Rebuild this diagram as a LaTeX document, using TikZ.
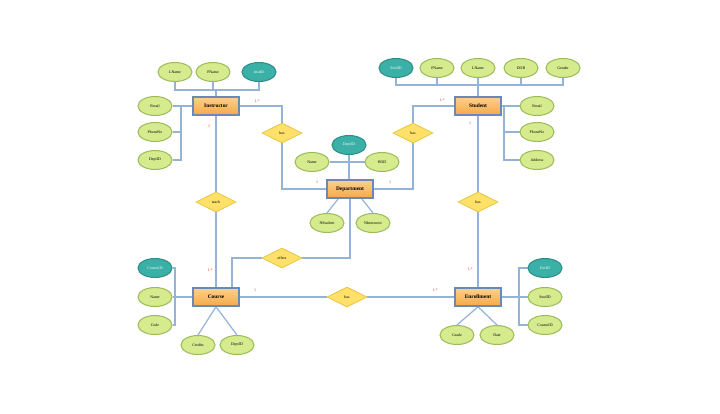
\documentclass[tikz,border=0pt]{standalone}
\usepackage{fontspec}
\setmainfont{Liberation Serif}
\usetikzlibrary{shapes.geometric,backgrounds}
\definecolor{linec}{HTML}{95B3D7}
\definecolor{entb}{HTML}{6A8AB5}
\definecolor{entt}{HTML}{FCD08F}
\definecolor{entbt}{HTML}{F5A947}
\definecolor{attf}{HTML}{D6EA8E}
\definecolor{attb}{HTML}{9BBB59}
\definecolor{keyf}{HTML}{3BB0A6}
\definecolor{keyb}{HTML}{2C8C88}
\definecolor{relf}{HTML}{FFE16A}
\definecolor{relb}{HTML}{E3C43A}
\definecolor{cardc}{HTML}{D03030}
\begin{document}
\begin{tikzpicture}[x=1pt,y=-1pt,
 ent/.style={rectangle, draw=entb, line width=1.5pt, top color=entt, bottom color=entbt, minimum width=46pt, minimum height=18pt, inner sep=0pt, font=\fontsize{5.4}{6}\selectfont\bfseries},
 att/.style={ellipse, draw=attb, line width=1pt, fill=attf, minimum width=34pt, minimum height=19pt, inner sep=0pt, font=\fontsize{3.9}{4.5}\selectfont},
 keyatt/.style={att, draw=keyb, fill=keyf, text=white},
 rel/.style={diamond, draw=relb, line width=0.7pt, fill=relf, minimum width=40pt, minimum height=20pt, inner sep=0pt, font=\fontsize{3.9}{4.5}\selectfont},
 conn/.style={draw=linec, line width=1.2pt},
 card/.style={text=cardc, font=\fontsize{4}{4.5}\selectfont, inner sep=0pt}]
\begin{scope}[on background layer]
\fill[white] (0,0) rectangle (720,413);
\end{scope}
\useasboundingbox (0,0) rectangle (720,413);

% Instructor
\node[ent] (instr) at (216,106) {Instructor};
\node[att] (ilname) at (175,72) {LName};
\node[att] (ifname) at (213,72) {FName};
\node[keyatt] (iid) at (259,72) {InstID};
\node[att] (iemail) at (155,106) {Email};
\node[att] (iphone) at (155,132) {PhoneNo};
\node[att] (idept) at (155,160) {DeptID};
\coordinate (ibar) at (216,90);
\coordinate (ibx) at (181,0);

% Student
\node[ent] (stud) at (478,106) {Student};
\node[keyatt] (sid) at (396,68) {StudID};
\node[att] (sfname) at (437,68) {FName};
\node[att] (slname) at (478,68) {LName};
\node[att] (sdob) at (521,68) {DOB};
\node[att] (sgender) at (563,68) {Gender};
\node[att] (semail) at (537,106) {Email};
\node[att] (sphone) at (537,132) {PhoneNo};
\node[att] (saddr) at (537,160) {Address};
\coordinate (sbar) at (478,85);
\coordinate (sbx) at (504,0);

% Department
\node[ent] (dept) at (350,189) {Department};
\node[keyatt] (did) at (349,145) {DeptID};
\node[att] (dname) at (312,162) {Name};
\node[att] (dhod) at (382,162) {HOD};
\node[att] (dnst) at (327,223) {NStudent};
\node[att] (dnin) at (373,223) {NInstructor};

% Course
\node[ent] (course) at (216,297) {Course};
\node[keyatt] (cid) at (155,268) {CourseID};
\node[att] (cname) at (155,297) {Name};
\node[att] (ccode) at (155,325) {Code};
\node[att] (ccred) at (198,345) {Credits};
\node[att] (cdept) at (237,345) {DeptID};
\coordinate (cbx) at (175,0);

% Enrollment
\node[ent] (enr) at (478,297) {Enrollment};
\node[keyatt] (eid) at (545,268) {EnrID};
\node[att] (estud) at (545,297) {StudID};
\node[att] (ecid) at (545,325) {CourseID};
\node[att] (egrade) at (457,335) {Grade};
\node[att] (edate) at (497,335) {Date};
\coordinate (ebx) at (519,0);

% Relationships
\node[rel] (has1) at (282,133) {has};
\node[rel] (has2) at (413,133) {has};
\node[rel] (teach) at (216,202) {teach};
\node[rel] (offers) at (282,258) {offers};
\node[rel] (has3) at (347,297) {has};
\node[rel] (has4) at (478,202) {has};

% Cardinalities
\node[card] (c1) at (257,101) {1,*};
\node[card] (c2) at (209,126) {1};
\node[card] (c3) at (442,100) {1,*};
\node[card] (c4) at (470,123) {1};
\node[card] (c5) at (317,182) {1};
\node[card] (c6) at (390,182) {1};
\node[card] (c7) at (210,270) {1,*};
\node[card] (c8) at (255,290) {1};
\node[card] (c9) at (435,290) {1,*};
\node[card] (c10) at (470,269) {1,*};

\begin{scope}[on background layer]
% Instructor attributes
\draw[conn] (ilname.south) |- (ibar);
\draw[conn] (iid.south) |- (ibar);
\draw[conn] (ifname.south) -- (ifname.south |- ibar);
\draw[conn] (ibar) -- (instr.north);
\draw[conn] (iemail.east) -- (instr.west);
\draw[conn] (iemail.east -| ibx) |- (idept.east);
\draw[conn] (iphone.east) -- (iphone.east -| ibx);
% Student attributes
\draw[conn] (sid.south) |- (sbar);
\draw[conn] (sgender.south) |- (sbar);
\draw[conn] (sfname.south) -- (sfname.south |- sbar);
\draw[conn] (sdob.south) -- (sdob.south |- sbar);
\draw[conn] (slname.south) -- (stud.north);
\draw[conn] (stud.east) -- (semail.west);
\draw[conn] (semail.west -| sbx) |- (saddr.west);
\draw[conn] (sphone.west) -- (sphone.west -| sbx);
% Department attributes
\draw[conn] (dname.east) -- (dhod.west);
\draw[conn] (did.south) -- (did.south |- dept.north);
\draw[conn] (dept.south west) ++(12,0) -- (dnst.north);
\draw[conn] (dept.south east) ++(-12,0) -- (dnin.north);
% Course attributes
\draw[conn] (cname.east) -- (course.west);
\draw[conn] (cid.east) -| (cbx |- ccode.east) -- (ccode.east);
\draw[conn] (course.south) -- (ccred.north);
\draw[conn] (course.south) -- (cdept.north);
% Enrollment attributes
\draw[conn] (enr.east) -- (estud.west);
\draw[conn] (eid.west) -| (ebx |- ecid.west) -- (ecid.west);
\draw[conn] (enr.south) -- (egrade.north);
\draw[conn] (enr.south) -- (edate.north);
% Relationships
\draw[conn] (instr.east) -| (has1.north);
\draw[conn] (has1.south) |- (dept.west);
\draw[conn] (stud.west) -| (has2.north);
\draw[conn] (has2.south) |- (dept.east);
\draw[conn] (instr.south) -- (teach.north);
\draw[conn] (teach.south) -- (course.north);
\draw[conn] (dept.south) |- (offers.east);
\draw[conn] (offers.west) -| ([xshift=16pt]course.north);
\draw[conn] (course.east) -- (has3.west);
\draw[conn] (has3.east) -- (enr.west);
\draw[conn] (stud.south) -- (has4.north);
\draw[conn] (has4.south) -- (enr.north);
\end{scope}
\end{tikzpicture}
\end{document}
